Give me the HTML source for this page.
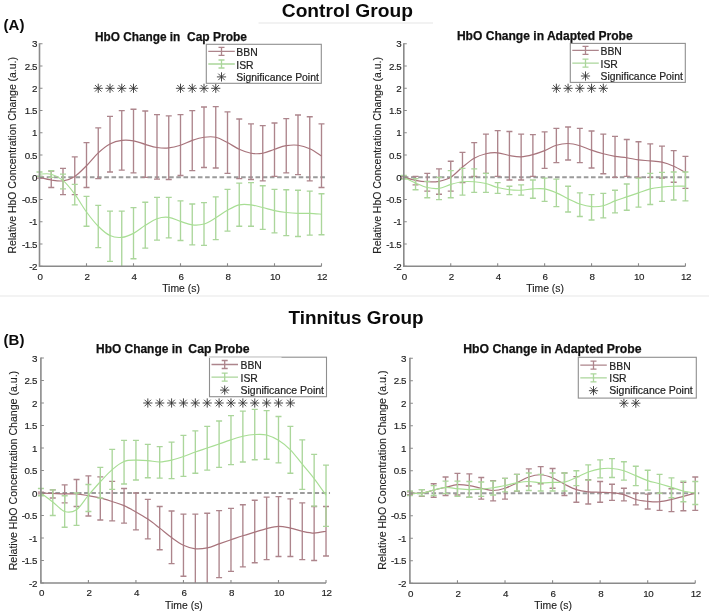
<!DOCTYPE html>
<html><head><meta charset="utf-8"><style>
html,body{margin:0;padding:0;background:#fff;}
body{width:709px;height:615px;overflow:hidden;}
svg{display:block;filter:blur(0.3px);font-family:"Liberation Sans", sans-serif;}
</style></head><body>
<svg width="709" height="615" viewBox="0 0 709 615">
<line x1="258.5" y1="23.0" x2="433" y2="23.0" stroke="#e6e6e6" stroke-width="1.2"/>
<line x1="0" y1="296" x2="709" y2="296" stroke="#efefef" stroke-width="1.5"/>
<text x="281.8" y="17.0" font-size="19.2" font-weight="bold" fill="#0a0a0a">Control Group</text>
<text x="288.5" y="323.8" font-size="18.9" font-weight="bold" fill="#0a0a0a">Tinnitus Group</text>
<text x="3.6" y="29.9" font-size="15" font-weight="bold" fill="#0a0a0a">(A)</text>
<text x="3.6" y="345.0" font-size="15" font-weight="bold" fill="#0a0a0a">(B)</text>
<line x1="39.50" y1="177.30" x2="325.50" y2="177.30" stroke="#9b9b9b" stroke-width="2.0" stroke-dasharray="4.6,2.6"/>
<path d="M39.50,176.41V178.19M36.50,176.41H42.50M36.50,178.19H42.50M51.25,171.07V187.54M48.25,171.07H54.25M48.25,187.54H54.25M63.00,168.40V194.66M60.00,168.40H66.00M60.00,194.66H66.00M74.75,156.83V194.66M71.75,156.83H77.75M71.75,194.66H77.75M86.50,142.59V187.54M83.50,142.59H89.50M83.50,187.54H89.50M98.25,127.91V178.64M95.25,127.91H101.25M95.25,178.64H101.25M110.00,116.34V171.96M107.00,116.34H113.00M107.00,171.96H113.00M121.75,110.55V170.18M118.75,110.55H124.75M118.75,170.18H124.75M133.50,109.22V172.85M130.50,109.22H136.50M130.50,172.85H136.50M145.25,111.00V177.30M142.25,111.00H148.25M142.25,177.30H148.25M157.00,114.56V179.08M154.00,114.56H160.00M154.00,179.08H160.00M168.75,115.89V179.53M165.75,115.89H171.75M165.75,179.53H171.75M180.50,114.56V175.52M177.50,114.56H183.50M177.50,175.52H183.50M192.25,110.55V170.62M189.25,110.55H195.25M189.25,170.62H195.25M204.00,106.99V167.51M201.00,106.99H207.00M201.00,167.51H207.00M215.75,106.55V167.96M212.75,106.55H218.75M212.75,167.96H218.75M227.50,111.89V173.30M224.50,111.89H230.50M224.50,173.30H230.50M239.25,119.01V178.64M236.25,119.01H242.25M236.25,178.64H242.25M251.00,123.90V179.53M248.00,123.90H254.00M248.00,179.53H254.00M262.75,125.68V180.86M259.75,125.68H265.75M259.75,180.86H265.75M274.50,123.01V176.41M271.50,123.01H277.50M271.50,176.41H277.50M286.25,118.56V172.85M283.25,118.56H289.25M283.25,172.85H289.25M298.00,115.00V174.63M295.00,115.00H301.00M295.00,174.63H301.00M309.75,116.78V180.86M306.75,116.78H312.75M306.75,180.86H312.75M321.50,123.90V187.54M318.50,123.90H324.50M318.50,187.54H324.50" stroke="#ad858c" stroke-width="1.35" fill="none"/>
<path d="M39.50,177.30 C41.46,177.75 47.33,179.38 51.25,179.97 C55.17,180.56 59.08,181.45 63.00,180.86 C66.92,180.27 70.83,178.93 74.75,176.41 C78.67,173.89 82.58,169.66 86.50,165.73 C90.42,161.80 94.33,156.46 98.25,152.83 C102.17,149.19 106.08,146.00 110.00,143.93 C113.92,141.85 117.83,140.88 121.75,140.37 C125.67,139.85 129.58,140.14 133.50,140.81 C137.42,141.48 141.33,143.26 145.25,144.37 C149.17,145.48 153.08,146.89 157.00,147.49 C160.92,148.08 164.83,148.30 168.75,147.93 C172.67,147.56 176.58,146.52 180.50,145.26 C184.42,144.00 188.33,141.70 192.25,140.37 C196.17,139.03 200.08,137.77 204.00,137.25 C207.92,136.73 211.83,136.36 215.75,137.25 C219.67,138.14 223.58,140.59 227.50,142.59 C231.42,144.59 235.33,147.49 239.25,149.27 C243.17,151.05 247.08,152.60 251.00,153.27 C254.92,153.94 258.83,153.94 262.75,153.27 C266.67,152.60 270.58,150.53 274.50,149.27 C278.42,148.00 282.33,146.37 286.25,145.71 C290.17,145.04 294.08,144.74 298.00,145.26 C301.92,145.78 305.83,147.04 309.75,148.82 C313.67,150.60 319.54,154.75 321.50,155.94" stroke="#a8747c" stroke-width="1.2" fill="none"/>
<path d="M39.50,171.96V176.41M36.50,171.96H42.50M36.50,176.41H42.50M51.25,170.62V177.30M48.25,170.62H54.25M48.25,177.30H54.25M63.00,174.19V188.87M60.00,174.19H66.00M60.00,188.87H66.00M74.75,184.42V204.89M71.75,184.42H77.75M71.75,204.89H77.75M86.50,196.44V226.25M83.50,196.44H89.50M83.50,226.25H89.50M98.25,205.34V247.61M95.25,205.34H101.25M95.25,247.61H101.25M110.00,211.12V261.40M107.00,211.12H113.00M107.00,261.40H113.00M121.75,211.12V266.30M118.75,211.12H124.75M133.50,207.56V258.74M130.50,207.56H136.50M130.50,258.74H136.50M145.25,202.22V248.06M142.25,202.22H148.25M142.25,248.06H148.25M157.00,197.33V240.05M154.00,197.33H160.00M154.00,240.05H160.00M168.75,197.33V237.82M165.75,197.33H171.75M165.75,237.82H171.75M180.50,200.89V240.49M177.50,200.89H183.50M177.50,240.49H183.50M192.25,204.00V244.94M189.25,204.00H195.25M189.25,244.94H195.25M204.00,202.67V245.39M201.00,202.67H207.00M201.00,245.39H207.00M215.75,196.88V239.60M212.75,196.88H218.75M212.75,239.60H218.75M227.50,189.31V231.15M224.50,189.31H230.50M224.50,231.15H230.50M239.25,183.09V226.25M236.25,183.09H242.25M236.25,226.25H242.25M251.00,182.64V226.25M248.00,182.64H254.00M248.00,226.25H254.00M262.75,185.76V229.37M259.75,185.76H265.75M259.75,229.37H265.75M274.50,189.31V232.93M271.50,189.31H277.50M271.50,232.93H277.50M286.25,189.76V235.60M283.25,189.76H289.25M283.25,235.60H289.25M298.00,190.21V236.49M295.00,190.21H301.00M295.00,236.49H301.00M309.75,191.09V235.15M306.75,191.09H312.75M306.75,235.15H312.75M321.50,193.77V234.71M318.50,193.77H324.50M318.50,234.71H324.50" stroke="#abd69b" stroke-width="1.35" fill="none"/>
<path d="M39.50,174.19 C41.46,174.19 47.33,173.15 51.25,174.19 C55.17,175.22 59.08,177.08 63.00,180.42 C66.92,183.75 70.83,188.94 74.75,194.21 C78.67,199.48 82.58,206.67 86.50,212.01 C90.42,217.35 94.33,222.32 98.25,226.25 C102.17,230.18 106.08,233.74 110.00,235.60 C113.92,237.45 117.83,237.75 121.75,237.38 C125.67,237.00 129.58,235.37 133.50,233.37 C137.42,231.37 141.33,227.81 145.25,225.36 C149.17,222.91 153.08,220.02 157.00,218.69 C160.92,217.35 164.83,216.91 168.75,217.35 C172.67,217.80 176.58,220.09 180.50,221.36 C184.42,222.62 188.33,224.47 192.25,224.92 C196.17,225.36 200.08,225.21 204.00,224.03 C207.92,222.84 211.83,220.09 215.75,217.80 C219.67,215.50 223.58,212.38 227.50,210.23 C231.42,208.08 235.33,205.78 239.25,204.89 C243.17,204.00 247.08,204.45 251.00,204.89 C254.92,205.34 258.83,206.60 262.75,207.56 C266.67,208.52 270.58,209.86 274.50,210.68 C278.42,211.49 282.33,212.01 286.25,212.46 C290.17,212.90 294.08,213.20 298.00,213.35 C301.92,213.49 305.83,213.20 309.75,213.35 C313.67,213.49 319.54,214.09 321.50,214.24" stroke="#a8de94" stroke-width="1.15" fill="none"/>
<path d="M93.65,88.30L102.85,88.30M95.00,85.05L101.50,91.55M98.25,83.70L98.25,92.90M101.50,85.05L95.00,91.55" stroke="#333" stroke-width="0.9" fill="none"/>
<path d="M105.40,88.30L114.60,88.30M106.75,85.05L113.25,91.55M110.00,83.70L110.00,92.90M113.25,85.05L106.75,91.55" stroke="#333" stroke-width="0.9" fill="none"/>
<path d="M117.15,88.30L126.35,88.30M118.50,85.05L125.00,91.55M121.75,83.70L121.75,92.90M125.00,85.05L118.50,91.55" stroke="#333" stroke-width="0.9" fill="none"/>
<path d="M128.90,88.30L138.10,88.30M130.25,85.05L136.75,91.55M133.50,83.70L133.50,92.90M136.75,85.05L130.25,91.55" stroke="#333" stroke-width="0.9" fill="none"/>
<path d="M175.90,88.30L185.10,88.30M177.25,85.05L183.75,91.55M180.50,83.70L180.50,92.90M183.75,85.05L177.25,91.55" stroke="#333" stroke-width="0.9" fill="none"/>
<path d="M187.65,88.30L196.85,88.30M189.00,85.05L195.50,91.55M192.25,83.70L192.25,92.90M195.50,85.05L189.00,91.55" stroke="#333" stroke-width="0.9" fill="none"/>
<path d="M199.40,88.30L208.60,88.30M200.75,85.05L207.25,91.55M204.00,83.70L204.00,92.90M207.25,85.05L200.75,91.55" stroke="#333" stroke-width="0.9" fill="none"/>
<path d="M211.15,88.30L220.35,88.30M212.50,85.05L219.00,91.55M215.75,83.70L215.75,92.90M219.00,85.05L212.50,91.55" stroke="#333" stroke-width="0.9" fill="none"/>
<path d="M39.50,43.30V266.30H321.50" stroke="#8a8a8a" stroke-width="1.6" fill="none"/>
<path d="M39.50,266.30h3M39.50,244.05h3M39.50,221.80h3M39.50,199.55h3M39.50,177.30h3M39.50,155.05h3M39.50,132.80h3M39.50,110.55h3M39.50,88.30h3M39.50,66.05h3M39.50,43.80h3M39.50,266.30v-3M86.50,266.30v-3M133.50,266.30v-3M180.50,266.30v-3M227.50,266.30v-3M274.50,266.30v-3M321.50,266.30v-3" stroke="#8a8a8a" stroke-width="1.1" fill="none"/>
<text x="37.00" y="269.80" text-anchor="end" font-size="9.8" letter-spacing="-0.45" fill="#222222" stroke="#222222" stroke-width="0.15">-2</text>
<text x="37.00" y="247.55" text-anchor="end" font-size="9.8" letter-spacing="-0.45" fill="#222222" stroke="#222222" stroke-width="0.15">-1.5</text>
<text x="37.00" y="225.30" text-anchor="end" font-size="9.8" letter-spacing="-0.45" fill="#222222" stroke="#222222" stroke-width="0.15">-1</text>
<text x="37.00" y="203.05" text-anchor="end" font-size="9.8" letter-spacing="-0.45" fill="#222222" stroke="#222222" stroke-width="0.15">-0.5</text>
<text x="37.00" y="180.80" text-anchor="end" font-size="9.8" letter-spacing="-0.45" fill="#222222" stroke="#222222" stroke-width="0.15">0</text>
<text x="37.00" y="158.55" text-anchor="end" font-size="9.8" letter-spacing="-0.45" fill="#222222" stroke="#222222" stroke-width="0.15">0.5</text>
<text x="37.00" y="136.30" text-anchor="end" font-size="9.8" letter-spacing="-0.45" fill="#222222" stroke="#222222" stroke-width="0.15">1</text>
<text x="37.00" y="114.05" text-anchor="end" font-size="9.8" letter-spacing="-0.45" fill="#222222" stroke="#222222" stroke-width="0.15">1.5</text>
<text x="37.00" y="91.80" text-anchor="end" font-size="9.8" letter-spacing="-0.45" fill="#222222" stroke="#222222" stroke-width="0.15">2</text>
<text x="37.00" y="69.55" text-anchor="end" font-size="9.8" letter-spacing="-0.45" fill="#222222" stroke="#222222" stroke-width="0.15">2.5</text>
<text x="37.00" y="47.30" text-anchor="end" font-size="9.8" letter-spacing="-0.45" fill="#222222" stroke="#222222" stroke-width="0.15">3</text>
<text x="40.00" y="279.60" text-anchor="middle" font-size="9.8" letter-spacing="-0.45" fill="#222222" stroke="#222222" stroke-width="0.15">0</text>
<text x="87.00" y="279.60" text-anchor="middle" font-size="9.8" letter-spacing="-0.45" fill="#222222" stroke="#222222" stroke-width="0.15">2</text>
<text x="134.00" y="279.60" text-anchor="middle" font-size="9.8" letter-spacing="-0.45" fill="#222222" stroke="#222222" stroke-width="0.15">4</text>
<text x="181.00" y="279.60" text-anchor="middle" font-size="9.8" letter-spacing="-0.45" fill="#222222" stroke="#222222" stroke-width="0.15">6</text>
<text x="228.00" y="279.60" text-anchor="middle" font-size="9.8" letter-spacing="-0.45" fill="#222222" stroke="#222222" stroke-width="0.15">8</text>
<text x="275.00" y="279.60" text-anchor="middle" font-size="9.8" letter-spacing="-0.45" fill="#222222" stroke="#222222" stroke-width="0.15">10</text>
<text x="322.00" y="279.60" text-anchor="middle" font-size="9.8" letter-spacing="-0.45" fill="#222222" stroke="#222222" stroke-width="0.15">12</text>
<text x="181.00" y="291.90" text-anchor="middle" font-size="10.4" fill="#222222" stroke="#222222" stroke-width="0.12">Time (s)</text>
<text transform="translate(16.00,155.30) rotate(-90)" text-anchor="middle" font-size="10.35" textLength="196.5" lengthAdjust="spacingAndGlyphs" fill="#222222" stroke="#222222" stroke-width="0.12">Relative HbO Concentration Change (a.u.)</text>
<text x="95.00" y="40.60" font-size="12" textLength="85.30" lengthAdjust="spacingAndGlyphs" font-weight="bold" fill="#111" stroke="#111" stroke-width="0.25">HbO Change in</text>
<text x="187.00" y="40.60" font-size="12" textLength="60.00" lengthAdjust="spacingAndGlyphs" font-weight="bold" fill="#111" stroke="#111" stroke-width="0.25">Cap Probe</text>
<rect x="206.30" y="44.30" width="115.00" height="39.00" fill="#fff" stroke="#8f8f8f" stroke-width="1.1"/>
<path d="M208.30,51.30H234.80M221.50,47.30V55.30M218.50,47.30h6M218.50,55.30h6" stroke="#ad858c" stroke-width="1.3" fill="none"/>
<path d="M208.30,64.00H234.80M221.50,60.00V68.00M218.50,60.00h6M218.50,68.00h6" stroke="#abd69b" stroke-width="1.3" fill="none"/>
<path d="M216.90,76.90L226.10,76.90M218.25,73.65L224.75,80.15M221.50,72.30L221.50,81.50M224.75,73.65L218.25,80.15" stroke="#333" stroke-width="0.9" fill="none"/>
<text x="236.30" y="55.80" font-size="10.4" fill="#222222" stroke="#222222" stroke-width="0.2">BBN</text>
<text x="236.30" y="68.50" font-size="10.4" fill="#222222" stroke="#222222" stroke-width="0.2">ISR</text>
<text x="236.30" y="80.50" font-size="10.4" textLength="82.50" lengthAdjust="spacingAndGlyphs" fill="#222222" stroke="#222222" stroke-width="0.2">Significance Point</text>
<line x1="403.80" y1="177.30" x2="689.44" y2="177.30" stroke="#9b9b9b" stroke-width="2.0" stroke-dasharray="4.6,2.6"/>
<path d="M403.80,176.41V178.19M400.80,176.41H406.80M400.80,178.19H406.80M415.54,176.41V184.87M412.54,176.41H418.54M412.54,184.87H418.54M427.27,173.30V191.09M424.27,173.30H430.27M424.27,191.09H430.27M439.00,168.84V194.21M436.00,168.84H442.00M436.00,194.21H442.00M450.74,161.28V191.09M447.74,161.28H453.74M447.74,191.09H453.74M462.48,152.38V182.64M459.48,152.38H465.48M459.48,182.64H465.48M474.21,142.59V176.41M471.21,142.59H477.21M471.21,176.41H477.21M485.94,134.14V173.30M482.94,134.14H488.94M482.94,173.30H488.94M497.68,130.58V176.41M494.68,130.58H500.68M494.68,176.41H500.68M509.42,131.47V179.97M506.42,131.47H512.41M506.42,179.97H512.41M521.15,134.14V179.97M518.15,134.14H524.15M518.15,179.97H524.15M532.88,134.58V176.41M529.88,134.58H535.88M529.88,176.41H535.88M544.62,131.91V168.40M541.62,131.91H547.62M541.62,168.40H547.62M556.36,128.35V162.62M553.36,128.35H559.36M553.36,162.62H559.36M568.09,127.02V159.95M565.09,127.02H571.09M565.09,159.95H571.09M579.83,128.35V162.62M576.83,128.35H582.83M576.83,162.62H582.83M591.56,131.02V167.96M588.56,131.02H594.56M588.56,167.96H594.56M603.30,134.14V173.74M600.30,134.14H606.30M600.30,173.74H606.30M615.03,136.36V177.30M612.03,136.36H618.03M612.03,177.30H618.03M626.76,139.48V176.41M623.76,139.48H629.76M623.76,176.41H629.76M638.50,141.70V177.30M635.50,141.70H641.50M635.50,177.30H641.50M650.24,143.93V177.30M647.24,143.93H653.24M647.24,177.30H653.24M661.97,146.15V178.19M658.97,146.15H664.97M658.97,178.19H664.97M673.70,150.60V182.20M670.70,150.60H676.70M670.70,182.20H676.70M685.44,156.39V188.43M682.44,156.39H688.44M682.44,188.43H688.44" stroke="#ad858c" stroke-width="1.35" fill="none"/>
<path d="M403.80,177.30 C405.76,177.82 411.62,179.67 415.54,180.42 C419.45,181.16 423.36,181.60 427.27,181.75 C431.18,181.90 435.09,182.05 439.00,181.31 C442.92,180.56 446.83,179.67 450.74,177.30 C454.65,174.93 458.56,170.25 462.48,167.06 C466.39,163.88 470.30,160.39 474.21,158.17 C478.12,155.94 482.03,154.61 485.94,153.72 C489.86,152.82 493.77,152.53 497.68,152.83 C501.59,153.12 505.50,154.83 509.42,155.50 C513.33,156.16 517.24,156.98 521.15,156.83 C525.06,156.68 528.97,155.64 532.88,154.61 C536.80,153.57 540.71,152.16 544.62,150.60 C548.53,149.04 552.44,146.45 556.36,145.26 C560.27,144.07 564.18,143.41 568.09,143.48 C572.00,143.55 575.91,144.59 579.83,145.71 C583.74,146.82 587.65,148.82 591.56,150.16 C595.47,151.49 599.38,152.68 603.30,153.72 C607.21,154.75 611.12,155.72 615.03,156.39 C618.94,157.05 622.85,157.13 626.76,157.72 C630.68,158.31 634.59,159.43 638.50,159.95 C642.41,160.46 646.32,160.46 650.24,160.84 C654.15,161.21 658.06,161.28 661.97,162.17 C665.88,163.06 669.79,164.47 673.70,166.18 C677.62,167.88 683.48,171.37 685.44,172.41" stroke="#a8747c" stroke-width="1.2" fill="none"/>
<path d="M403.80,175.52V179.08M400.80,175.52H406.80M400.80,179.08H406.80M415.54,178.64V189.76M412.54,178.64H418.54M412.54,189.76H418.54M427.27,181.31V197.77M424.27,181.31H430.27M424.27,197.77H430.27M439.00,177.30V199.55M436.00,177.30H442.00M436.00,199.55H442.00M450.74,170.62V197.77M447.74,170.62H453.74M447.74,197.77H453.74M462.48,168.40V195.10M459.48,168.40H465.48M459.48,195.10H465.48M474.21,168.84V192.43M471.21,168.84H477.21M471.21,192.43H477.21M485.94,173.30V192.43M482.94,173.30H488.94M482.94,192.43H488.94M497.68,182.64V193.32M494.68,182.64H500.68M494.68,193.32H500.68M509.42,186.20V194.66M506.42,186.20H512.41M506.42,194.66H512.41M521.15,184.87V195.10M518.15,184.87H524.15M518.15,195.10H524.15M532.88,179.97V198.22M529.88,179.97H535.88M529.88,198.22H535.88M544.62,178.19V201.33M541.62,178.19H547.62M541.62,201.33H547.62M556.36,179.08V206.67M553.36,179.08H559.36M553.36,206.67H559.36M568.09,186.20V212.01M565.09,186.20H571.09M565.09,212.01H571.09M579.83,192.88V216.46M576.83,192.88H582.83M576.83,216.46H582.83M591.56,194.66V220.02M588.56,194.66H594.56M588.56,220.02H594.56M603.30,193.32V217.80M600.30,193.32H606.30M600.30,217.80H606.30M615.03,190.21V212.90M612.03,190.21H618.03M612.03,212.90H618.03M626.76,183.98V210.23M623.76,183.98H629.76M623.76,210.23H629.76M638.50,178.19V207.12M635.50,178.19H641.50M635.50,207.12H641.50M650.24,173.30V204.45M647.24,173.30H653.24M647.24,204.45H653.24M661.97,172.41V201.33M658.97,172.41H664.97M658.97,201.33H664.97M673.70,171.96V200.00M670.70,171.96H676.70M670.70,200.00H676.70M685.44,171.96V200.89M682.44,171.96H688.44M682.44,200.89H688.44" stroke="#abd69b" stroke-width="1.35" fill="none"/>
<path d="M403.80,177.30 C405.76,178.26 411.62,181.38 415.54,183.09 C419.45,184.79 423.36,186.65 427.27,187.54 C431.18,188.43 435.09,188.94 439.00,188.43 C442.92,187.91 446.83,185.53 450.74,184.42 C454.65,183.31 458.56,182.19 462.48,181.75 C466.39,181.31 470.30,181.45 474.21,181.75 C478.12,182.05 482.03,182.57 485.94,183.53 C489.86,184.49 493.77,186.50 497.68,187.54 C501.59,188.57 505.50,189.32 509.42,189.76 C513.33,190.21 517.24,190.35 521.15,190.21 C525.06,190.06 528.97,189.09 532.88,188.87 C536.80,188.65 540.71,188.20 544.62,188.87 C548.53,189.54 552.44,191.24 556.36,192.88 C560.27,194.51 564.18,196.81 568.09,198.66 C572.00,200.51 575.91,202.66 579.83,204.00 C583.74,205.34 587.65,206.37 591.56,206.67 C595.47,206.97 599.38,206.74 603.30,205.78 C607.21,204.82 611.12,202.37 615.03,200.89 C618.94,199.40 622.85,198.22 626.76,196.88 C630.68,195.55 634.59,194.21 638.50,192.88 C642.41,191.54 646.32,189.83 650.24,188.87 C654.15,187.91 658.06,187.53 661.97,187.09 C665.88,186.65 669.79,186.35 673.70,186.20 C677.62,186.05 683.48,186.20 685.44,186.20" stroke="#a8de94" stroke-width="1.15" fill="none"/>
<path d="M551.75,88.30L560.96,88.30M553.10,85.05L559.61,91.55M556.36,83.70L556.36,92.90M559.61,85.05L553.10,91.55" stroke="#333" stroke-width="0.9" fill="none"/>
<path d="M563.49,88.30L572.69,88.30M564.84,85.05L571.34,91.55M568.09,83.70L568.09,92.90M571.34,85.05L564.84,91.55" stroke="#333" stroke-width="0.9" fill="none"/>
<path d="M575.23,88.30L584.43,88.30M576.57,85.05L583.08,91.55M579.83,83.70L579.83,92.90M583.08,85.05L576.57,91.55" stroke="#333" stroke-width="0.9" fill="none"/>
<path d="M586.96,88.30L596.16,88.30M588.31,85.05L594.81,91.55M591.56,83.70L591.56,92.90M594.81,85.05L588.31,91.55" stroke="#333" stroke-width="0.9" fill="none"/>
<path d="M598.70,88.30L607.90,88.30M600.04,85.05L606.55,91.55M603.30,83.70L603.30,92.90M606.55,85.05L600.04,91.55" stroke="#333" stroke-width="0.9" fill="none"/>
<path d="M403.80,43.30V266.30H685.44" stroke="#8a8a8a" stroke-width="1.6" fill="none"/>
<path d="M403.80,266.30h3M403.80,244.05h3M403.80,221.80h3M403.80,199.55h3M403.80,177.30h3M403.80,155.05h3M403.80,132.80h3M403.80,110.55h3M403.80,88.30h3M403.80,66.05h3M403.80,43.80h3M403.80,266.30v-3M450.74,266.30v-3M497.68,266.30v-3M544.62,266.30v-3M591.56,266.30v-3M638.50,266.30v-3M685.44,266.30v-3" stroke="#8a8a8a" stroke-width="1.1" fill="none"/>
<text x="401.30" y="269.80" text-anchor="end" font-size="9.8" letter-spacing="-0.45" fill="#222222" stroke="#222222" stroke-width="0.15">-2</text>
<text x="401.30" y="247.55" text-anchor="end" font-size="9.8" letter-spacing="-0.45" fill="#222222" stroke="#222222" stroke-width="0.15">-1.5</text>
<text x="401.30" y="225.30" text-anchor="end" font-size="9.8" letter-spacing="-0.45" fill="#222222" stroke="#222222" stroke-width="0.15">-1</text>
<text x="401.30" y="203.05" text-anchor="end" font-size="9.8" letter-spacing="-0.45" fill="#222222" stroke="#222222" stroke-width="0.15">-0.5</text>
<text x="401.30" y="180.80" text-anchor="end" font-size="9.8" letter-spacing="-0.45" fill="#222222" stroke="#222222" stroke-width="0.15">0</text>
<text x="401.30" y="158.55" text-anchor="end" font-size="9.8" letter-spacing="-0.45" fill="#222222" stroke="#222222" stroke-width="0.15">0.5</text>
<text x="401.30" y="136.30" text-anchor="end" font-size="9.8" letter-spacing="-0.45" fill="#222222" stroke="#222222" stroke-width="0.15">1</text>
<text x="401.30" y="114.05" text-anchor="end" font-size="9.8" letter-spacing="-0.45" fill="#222222" stroke="#222222" stroke-width="0.15">1.5</text>
<text x="401.30" y="91.80" text-anchor="end" font-size="9.8" letter-spacing="-0.45" fill="#222222" stroke="#222222" stroke-width="0.15">2</text>
<text x="401.30" y="69.55" text-anchor="end" font-size="9.8" letter-spacing="-0.45" fill="#222222" stroke="#222222" stroke-width="0.15">2.5</text>
<text x="401.30" y="47.30" text-anchor="end" font-size="9.8" letter-spacing="-0.45" fill="#222222" stroke="#222222" stroke-width="0.15">3</text>
<text x="404.30" y="279.60" text-anchor="middle" font-size="9.8" letter-spacing="-0.45" fill="#222222" stroke="#222222" stroke-width="0.15">0</text>
<text x="451.24" y="279.60" text-anchor="middle" font-size="9.8" letter-spacing="-0.45" fill="#222222" stroke="#222222" stroke-width="0.15">2</text>
<text x="498.18" y="279.60" text-anchor="middle" font-size="9.8" letter-spacing="-0.45" fill="#222222" stroke="#222222" stroke-width="0.15">4</text>
<text x="545.12" y="279.60" text-anchor="middle" font-size="9.8" letter-spacing="-0.45" fill="#222222" stroke="#222222" stroke-width="0.15">6</text>
<text x="592.06" y="279.60" text-anchor="middle" font-size="9.8" letter-spacing="-0.45" fill="#222222" stroke="#222222" stroke-width="0.15">8</text>
<text x="639.00" y="279.60" text-anchor="middle" font-size="9.8" letter-spacing="-0.45" fill="#222222" stroke="#222222" stroke-width="0.15">10</text>
<text x="685.94" y="279.60" text-anchor="middle" font-size="9.8" letter-spacing="-0.45" fill="#222222" stroke="#222222" stroke-width="0.15">12</text>
<text x="545.12" y="291.90" text-anchor="middle" font-size="10.4" fill="#222222" stroke="#222222" stroke-width="0.12">Time (s)</text>
<text transform="translate(380.60,155.40) rotate(-90)" text-anchor="middle" font-size="10.35" textLength="196.8" lengthAdjust="spacingAndGlyphs" fill="#222222" stroke="#222222" stroke-width="0.12">Relative HbO Concentration Change (a.u.)</text>
<text x="456.90" y="39.70" font-size="12" textLength="175.80" lengthAdjust="spacingAndGlyphs" font-weight="bold" fill="#111" stroke="#111" stroke-width="0.25">HbO Change in Adapted Probe</text>
<rect x="570.30" y="43.40" width="115.00" height="39.00" fill="#fff" stroke="#8f8f8f" stroke-width="1.1"/>
<path d="M572.30,50.40H598.80M585.50,46.40V54.40M582.50,46.40h6M582.50,54.40h6" stroke="#ad858c" stroke-width="1.3" fill="none"/>
<path d="M572.30,63.10H598.80M585.50,59.10V67.10M582.50,59.10h6M582.50,67.10h6" stroke="#abd69b" stroke-width="1.3" fill="none"/>
<path d="M580.90,76.00L590.10,76.00M582.25,72.75L588.75,79.25M585.50,71.40L585.50,80.60M588.75,72.75L582.25,79.25" stroke="#333" stroke-width="0.9" fill="none"/>
<text x="600.50" y="54.90" font-size="10.4" fill="#222222" stroke="#222222" stroke-width="0.2">BBN</text>
<text x="600.50" y="67.60" font-size="10.4" fill="#222222" stroke="#222222" stroke-width="0.2">ISR</text>
<text x="600.50" y="79.60" font-size="10.4" textLength="82.30" lengthAdjust="spacingAndGlyphs" fill="#222222" stroke="#222222" stroke-width="0.2">Significance Point</text>
<line x1="40.90" y1="493.00" x2="330.02" y2="493.00" stroke="#9b9b9b" stroke-width="2.0" stroke-dasharray="4.6,2.6"/>
<path d="M40.90,492.10V493.90M37.90,492.10H43.90M37.90,493.90H43.90M52.78,489.85V497.95M49.78,489.85H55.78M49.78,497.95H55.78M64.66,484.90V502.90M61.66,484.90H67.66M61.66,502.90H67.66M76.54,479.50V506.50M73.54,479.50H79.54M73.54,506.50H79.54M88.42,475.90V515.95M85.42,475.90H91.42M85.42,515.95H91.42M100.30,476.80V520.00M97.30,476.80H103.30M97.30,520.00H103.30M112.18,481.30V520.90M109.18,481.30H115.18M109.18,520.90H115.18M124.06,488.50V523.15M121.06,488.50H127.06M121.06,523.15H127.06M135.94,493.00V529.90M132.94,493.00H138.94M132.94,529.90H138.94M147.82,499.30V538.90M144.82,499.30H150.82M144.82,538.90H150.82M159.70,506.50V549.70M156.70,506.50H162.70M156.70,549.70H162.70M171.58,511.00V563.65M168.58,511.00H174.58M168.58,563.65H174.58M183.46,514.15V576.25M180.46,514.15H186.46M180.46,576.25H186.46M195.34,514.15V583.00M192.34,514.15H198.34M207.22,513.25V583.00M204.22,513.25H210.22M219.10,510.55V577.60M216.10,510.55H222.10M216.10,577.60H222.10M230.98,508.30V571.30M227.98,508.30H233.98M227.98,571.30H233.98M242.86,504.70V566.80M239.86,504.70H245.86M239.86,566.80H245.86M254.74,500.20V562.75M251.74,500.20H257.74M251.74,562.75H257.74M266.62,497.05V559.60M263.62,497.05H269.62M263.62,559.60H269.62M278.50,496.60V556.45M275.50,496.60H281.50M275.50,556.45H281.50M290.38,498.85V556.45M287.38,498.85H293.38M287.38,556.45H293.38M302.26,502.90V559.60M299.26,502.90H305.26M299.26,559.60H305.26M314.14,506.50V560.50M311.14,506.50H317.14M311.14,560.50H317.14M326.02,506.50V556.00M323.02,506.50H329.02M323.02,556.00H329.02" stroke="#ad858c" stroke-width="1.35" fill="none"/>
<path d="M40.90,493.00 C42.88,493.07 48.82,493.30 52.78,493.45 C56.74,493.60 60.70,493.82 64.66,493.90 C68.62,493.97 72.58,493.60 76.54,493.90 C80.50,494.20 84.46,495.02 88.42,495.70 C92.38,496.38 96.34,496.97 100.30,497.95 C104.26,498.93 108.22,500.27 112.18,501.55 C116.14,502.83 120.10,503.88 124.06,505.60 C128.02,507.33 131.98,509.65 135.94,511.90 C139.90,514.15 143.86,516.40 147.82,519.10 C151.78,521.80 155.74,525.03 159.70,528.10 C163.66,531.17 167.62,534.70 171.58,537.55 C175.54,540.40 179.50,543.33 183.46,545.20 C187.42,547.08 191.38,548.35 195.34,548.80 C199.30,549.25 203.26,548.72 207.22,547.90 C211.18,547.08 215.14,545.20 219.10,543.85 C223.06,542.50 227.02,541.15 230.98,539.80 C234.94,538.45 238.90,537.02 242.86,535.75 C246.82,534.48 250.78,533.35 254.74,532.15 C258.70,530.95 262.66,529.52 266.62,528.55 C270.58,527.57 274.54,526.38 278.50,526.30 C282.46,526.22 286.42,527.27 290.38,528.10 C294.34,528.93 298.30,530.42 302.26,531.25 C306.22,532.08 310.18,533.05 314.14,533.05 C318.10,533.05 324.04,531.55 326.02,531.25" stroke="#a8747c" stroke-width="1.2" fill="none"/>
<path d="M40.90,488.50V495.70M37.90,488.50H43.90M37.90,495.70H43.90M52.78,489.85V515.50M49.78,489.85H55.78M49.78,515.50H55.78M64.66,495.70V527.20M61.66,495.70H67.66M61.66,527.20H67.66M76.54,493.00V525.40M73.54,493.00H79.54M73.54,525.40H79.54M88.42,484.45V511.45M85.42,484.45H91.42M85.42,511.45H91.42M100.30,467.35V497.95M97.30,467.35H103.30M97.30,497.95H103.30M112.18,449.35V489.40M109.18,449.35H115.18M109.18,489.40H115.18M124.06,440.35V484.00M121.06,440.35H127.06M121.06,484.00H127.06M135.94,440.35V479.95M132.94,440.35H138.94M132.94,479.95H138.94M147.82,444.40V477.70M144.82,444.40H150.82M144.82,477.70H150.82M159.70,446.65V478.15M156.70,446.65H162.70M156.70,478.15H162.70M171.58,442.15V478.60M168.58,442.15H174.58M168.58,478.60H174.58M183.46,435.40V476.35M180.46,435.40H186.46M180.46,476.35H186.46M195.34,430.90V473.20M192.34,430.90H198.34M192.34,473.20H198.34M207.22,426.40V470.05M204.22,426.40H210.22M204.22,470.05H210.22M219.10,421.00V467.35M216.10,421.00H222.10M216.10,467.35H222.10M230.98,415.60V464.65M227.98,415.60H233.98M227.98,464.65H233.98M242.86,411.10V461.95M239.86,411.10H245.86M239.86,461.95H245.86M254.74,409.30V459.70M251.74,409.30H257.74M251.74,459.70H257.74M266.62,410.65V459.25M263.62,410.65H269.62M263.62,459.25H269.62M278.50,416.50V462.85M275.50,416.50H281.50M275.50,462.85H281.50M290.38,426.40V473.20M287.38,426.40H293.38M287.38,473.20H293.38M302.26,439.90V489.40M299.26,439.90H305.26M299.26,489.40H305.26M314.14,454.30V506.05M311.14,454.30H317.14M311.14,506.05H317.14M326.02,465.10V526.30M323.02,465.10H329.02M323.02,526.30H329.02" stroke="#abd69b" stroke-width="1.35" fill="none"/>
<path d="M40.90,493.00 C42.88,494.50 48.82,498.93 52.78,502.00 C56.74,505.07 60.70,510.18 64.66,511.45 C68.62,512.73 72.58,512.35 76.54,509.65 C80.50,506.95 84.46,499.90 88.42,495.25 C92.38,490.60 96.34,486.02 100.30,481.75 C104.26,477.48 108.22,472.98 112.18,469.60 C116.14,466.23 120.10,463.07 124.06,461.50 C128.02,459.93 131.98,460.30 135.94,460.15 C139.90,460.00 143.86,460.30 147.82,460.60 C151.78,460.90 155.74,462.02 159.70,461.95 C163.66,461.88 167.62,461.05 171.58,460.15 C175.54,459.25 179.50,457.90 183.46,456.55 C187.42,455.20 191.38,453.48 195.34,452.05 C199.30,450.62 203.26,449.35 207.22,448.00 C211.18,446.65 215.14,445.30 219.10,443.95 C223.06,442.60 227.02,441.17 230.98,439.90 C234.94,438.62 238.90,437.20 242.86,436.30 C246.82,435.40 250.78,434.73 254.74,434.50 C258.70,434.27 262.66,433.97 266.62,434.95 C270.58,435.93 274.54,437.88 278.50,440.35 C282.46,442.83 286.42,445.83 290.38,449.80 C294.34,453.77 298.30,459.40 302.26,464.20 C306.22,469.00 310.18,473.43 314.14,478.60 C318.10,483.78 324.04,492.48 326.02,495.25" stroke="#a8de94" stroke-width="1.15" fill="none"/>
<path d="M143.22,403.00L152.42,403.00M144.57,399.75L151.07,406.25M147.82,398.40L147.82,407.60M151.07,399.75L144.57,406.25" stroke="#333" stroke-width="0.9" fill="none"/>
<path d="M155.10,403.00L164.30,403.00M156.45,399.75L162.95,406.25M159.70,398.40L159.70,407.60M162.95,399.75L156.45,406.25" stroke="#333" stroke-width="0.9" fill="none"/>
<path d="M166.98,403.00L176.18,403.00M168.33,399.75L174.83,406.25M171.58,398.40L171.58,407.60M174.83,399.75L168.33,406.25" stroke="#333" stroke-width="0.9" fill="none"/>
<path d="M178.86,403.00L188.06,403.00M180.21,399.75L186.71,406.25M183.46,398.40L183.46,407.60M186.71,399.75L180.21,406.25" stroke="#333" stroke-width="0.9" fill="none"/>
<path d="M190.74,403.00L199.94,403.00M192.09,399.75L198.59,406.25M195.34,398.40L195.34,407.60M198.59,399.75L192.09,406.25" stroke="#333" stroke-width="0.9" fill="none"/>
<path d="M202.62,403.00L211.82,403.00M203.97,399.75L210.47,406.25M207.22,398.40L207.22,407.60M210.47,399.75L203.97,406.25" stroke="#333" stroke-width="0.9" fill="none"/>
<path d="M214.50,403.00L223.70,403.00M215.85,399.75L222.35,406.25M219.10,398.40L219.10,407.60M222.35,399.75L215.85,406.25" stroke="#333" stroke-width="0.9" fill="none"/>
<path d="M226.38,403.00L235.58,403.00M227.73,399.75L234.23,406.25M230.98,398.40L230.98,407.60M234.23,399.75L227.73,406.25" stroke="#333" stroke-width="0.9" fill="none"/>
<path d="M238.26,403.00L247.46,403.00M239.61,399.75L246.11,406.25M242.86,398.40L242.86,407.60M246.11,399.75L239.61,406.25" stroke="#333" stroke-width="0.9" fill="none"/>
<path d="M250.14,403.00L259.34,403.00M251.49,399.75L257.99,406.25M254.74,398.40L254.74,407.60M257.99,399.75L251.49,406.25" stroke="#333" stroke-width="0.9" fill="none"/>
<path d="M262.02,403.00L271.22,403.00M263.37,399.75L269.87,406.25M266.62,398.40L266.62,407.60M269.87,399.75L263.37,406.25" stroke="#333" stroke-width="0.9" fill="none"/>
<path d="M273.90,403.00L283.10,403.00M275.25,399.75L281.75,406.25M278.50,398.40L278.50,407.60M281.75,399.75L275.25,406.25" stroke="#333" stroke-width="0.9" fill="none"/>
<path d="M285.78,403.00L294.98,403.00M287.13,399.75L293.63,406.25M290.38,398.40L290.38,407.60M293.63,399.75L287.13,406.25" stroke="#333" stroke-width="0.9" fill="none"/>
<path d="M40.90,357.50V583.00H326.02" stroke="#8a8a8a" stroke-width="1.6" fill="none"/>
<path d="M40.90,583.00h3M40.90,560.50h3M40.90,538.00h3M40.90,515.50h3M40.90,493.00h3M40.90,470.50h3M40.90,448.00h3M40.90,425.50h3M40.90,403.00h3M40.90,380.50h3M40.90,358.00h3M40.90,583.00v-3M88.42,583.00v-3M135.94,583.00v-3M183.46,583.00v-3M230.98,583.00v-3M278.50,583.00v-3M326.02,583.00v-3" stroke="#8a8a8a" stroke-width="1.1" fill="none"/>
<text x="36.90" y="586.50" text-anchor="end" font-size="9.8" letter-spacing="-0.45" fill="#222222" stroke="#222222" stroke-width="0.15">-2</text>
<text x="36.90" y="564.00" text-anchor="end" font-size="9.8" letter-spacing="-0.45" fill="#222222" stroke="#222222" stroke-width="0.15">-1.5</text>
<text x="36.90" y="541.50" text-anchor="end" font-size="9.8" letter-spacing="-0.45" fill="#222222" stroke="#222222" stroke-width="0.15">-1</text>
<text x="36.90" y="519.00" text-anchor="end" font-size="9.8" letter-spacing="-0.45" fill="#222222" stroke="#222222" stroke-width="0.15">-0.5</text>
<text x="36.90" y="496.50" text-anchor="end" font-size="9.8" letter-spacing="-0.45" fill="#222222" stroke="#222222" stroke-width="0.15">0</text>
<text x="36.90" y="474.00" text-anchor="end" font-size="9.8" letter-spacing="-0.45" fill="#222222" stroke="#222222" stroke-width="0.15">0.5</text>
<text x="36.90" y="451.50" text-anchor="end" font-size="9.8" letter-spacing="-0.45" fill="#222222" stroke="#222222" stroke-width="0.15">1</text>
<text x="36.90" y="429.00" text-anchor="end" font-size="9.8" letter-spacing="-0.45" fill="#222222" stroke="#222222" stroke-width="0.15">1.5</text>
<text x="36.90" y="406.50" text-anchor="end" font-size="9.8" letter-spacing="-0.45" fill="#222222" stroke="#222222" stroke-width="0.15">2</text>
<text x="36.90" y="384.00" text-anchor="end" font-size="9.8" letter-spacing="-0.45" fill="#222222" stroke="#222222" stroke-width="0.15">2.5</text>
<text x="36.90" y="361.50" text-anchor="end" font-size="9.8" letter-spacing="-0.45" fill="#222222" stroke="#222222" stroke-width="0.15">3</text>
<text x="41.40" y="596.30" text-anchor="middle" font-size="9.8" letter-spacing="-0.45" fill="#222222" stroke="#222222" stroke-width="0.15">0</text>
<text x="88.92" y="596.30" text-anchor="middle" font-size="9.8" letter-spacing="-0.45" fill="#222222" stroke="#222222" stroke-width="0.15">2</text>
<text x="136.44" y="596.30" text-anchor="middle" font-size="9.8" letter-spacing="-0.45" fill="#222222" stroke="#222222" stroke-width="0.15">4</text>
<text x="183.96" y="596.30" text-anchor="middle" font-size="9.8" letter-spacing="-0.45" fill="#222222" stroke="#222222" stroke-width="0.15">6</text>
<text x="231.48" y="596.30" text-anchor="middle" font-size="9.8" letter-spacing="-0.45" fill="#222222" stroke="#222222" stroke-width="0.15">8</text>
<text x="279.00" y="596.30" text-anchor="middle" font-size="9.8" letter-spacing="-0.45" fill="#222222" stroke="#222222" stroke-width="0.15">10</text>
<text x="326.52" y="596.30" text-anchor="middle" font-size="9.8" letter-spacing="-0.45" fill="#222222" stroke="#222222" stroke-width="0.15">12</text>
<text x="183.96" y="608.60" text-anchor="middle" font-size="10.4" fill="#222222" stroke="#222222" stroke-width="0.12">Time (s)</text>
<text transform="translate(16.90,470.60) rotate(-90)" text-anchor="middle" font-size="10.35" textLength="199.5" lengthAdjust="spacingAndGlyphs" fill="#222222" stroke="#222222" stroke-width="0.12">Relative HbO Concentration Change (a.u.)</text>
<text x="96.00" y="353.20" font-size="12" textLength="86.30" lengthAdjust="spacingAndGlyphs" font-weight="bold" fill="#111" stroke="#111" stroke-width="0.25">HbO Change in</text>
<text x="188.30" y="353.20" font-size="12" textLength="61.20" lengthAdjust="spacingAndGlyphs" font-weight="bold" fill="#111" stroke="#111" stroke-width="0.25">Cap Probe</text>
<rect x="209.50" y="357.20" width="117.00" height="39.50" fill="#fff" stroke="#8f8f8f" stroke-width="1.1"/>
<path d="M211.50,364.50H238.00M224.70,360.50V368.50M221.70,360.50h6M221.70,368.50h6" stroke="#ad858c" stroke-width="1.3" fill="none"/>
<path d="M211.50,377.20H238.00M224.70,373.20V381.20M221.70,373.20h6M221.70,381.20h6" stroke="#abd69b" stroke-width="1.3" fill="none"/>
<path d="M220.10,390.10L229.30,390.10M221.45,386.85L227.95,393.35M224.70,385.50L224.70,394.70M227.95,386.85L221.45,393.35" stroke="#333" stroke-width="0.9" fill="none"/>
<text x="240.50" y="369.00" font-size="10.4" fill="#222222" stroke="#222222" stroke-width="0.2">BBN</text>
<text x="240.50" y="381.70" font-size="10.4" fill="#222222" stroke="#222222" stroke-width="0.2">ISR</text>
<text x="240.50" y="393.70" font-size="10.4" textLength="83.50" lengthAdjust="spacingAndGlyphs" fill="#222222" stroke="#222222" stroke-width="0.2">Significance Point</text>
<line x1="208.90" y1="357.20" x2="281.50" y2="357.20" stroke="#dedede" stroke-width="1.4"/>
<line x1="409.90" y1="493.20" x2="699.26" y2="493.20" stroke="#9b9b9b" stroke-width="2.0" stroke-dasharray="4.6,2.6"/>
<path d="M409.90,491.85V494.55M406.90,491.85H412.90M406.90,494.55H412.90M421.79,489.60V496.35M418.79,489.60H424.79M418.79,496.35H424.79M433.68,483.75V497.25M430.68,483.75H436.68M430.68,497.25H436.68M445.57,477.00V495.45M442.57,477.00H448.57M442.57,495.45H448.57M457.46,473.40V495.00M454.46,473.40H460.46M454.46,495.00H460.46M469.35,473.85V497.25M466.35,473.85H472.35M466.35,497.25H472.35M481.24,477.45V499.05M478.24,477.45H484.24M478.24,499.05H484.24M493.13,480.60V500.85M490.13,480.60H496.13M490.13,500.85H496.13M505.02,478.35V499.05M502.02,478.35H508.02M502.02,499.05H508.02M516.91,474.30V491.40M513.91,474.30H519.91M513.91,491.40H519.91M528.80,468.90V486.00M525.80,468.90H531.80M525.80,486.00H531.80M540.69,466.65V483.75M537.69,466.65H543.69M537.69,483.75H543.69M552.58,468.45V488.25M549.58,468.45H555.58M549.58,488.25H555.58M564.47,472.95V495.45M561.47,472.95H567.47M561.47,495.45H567.47M576.36,476.55V502.20M573.36,476.55H579.36M573.36,502.20H579.36M588.25,479.70V504.00M585.25,479.70H591.25M585.25,504.00H591.25M600.14,481.50V502.20M597.14,481.50H603.14M597.14,502.20H603.14M612.03,484.20V500.40M609.03,484.20H615.03M609.03,500.40H615.03M623.92,488.25V500.85M620.92,488.25H626.92M620.92,500.85H626.92M635.81,493.20V504.90M632.81,493.20H638.81M632.81,504.90H638.81M647.70,494.10V508.95M644.70,494.10H650.70M644.70,508.95H650.70M659.59,493.20V510.30M656.59,493.20H662.59M656.59,510.30H662.59M671.48,488.70V511.65M668.48,488.70H674.48M668.48,511.65H674.48M683.37,482.40V510.75M680.37,482.40H686.37M680.37,510.75H686.37M695.26,477.00V510.30M692.26,477.00H698.26M692.26,510.30H698.26" stroke="#ad858c" stroke-width="1.35" fill="none"/>
<path d="M409.90,493.20 C411.88,493.20 417.83,493.72 421.79,493.20 C425.75,492.68 429.72,491.03 433.68,490.05 C437.64,489.07 441.61,488.25 445.57,487.35 C449.53,486.45 453.50,484.95 457.46,484.65 C461.42,484.35 465.39,484.95 469.35,485.55 C473.31,486.15 477.28,487.43 481.24,488.25 C485.20,489.07 489.17,490.50 493.13,490.50 C497.09,490.50 501.06,489.52 505.02,488.25 C508.98,486.98 512.95,484.72 516.91,482.85 C520.87,480.97 524.84,478.35 528.80,477.00 C532.76,475.65 536.73,474.60 540.69,474.75 C544.65,474.90 548.62,476.32 552.58,477.90 C556.54,479.47 560.51,482.25 564.47,484.20 C568.43,486.15 572.40,488.32 576.36,489.60 C580.32,490.87 584.29,491.40 588.25,491.85 C592.21,492.30 596.18,492.15 600.14,492.30 C604.10,492.45 608.07,492.38 612.03,492.75 C615.99,493.12 619.96,493.43 623.92,494.55 C627.88,495.68 631.85,498.38 635.81,499.50 C639.77,500.62 643.74,500.93 647.70,501.30 C651.66,501.68 655.63,502.05 659.59,501.75 C663.55,501.45 667.52,500.40 671.48,499.50 C675.44,498.60 679.41,497.40 683.37,496.35 C687.33,495.30 693.28,493.72 695.26,493.20" stroke="#a8747c" stroke-width="1.2" fill="none"/>
<path d="M409.90,490.95V495.45M406.90,490.95H412.90M406.90,495.45H412.90M421.79,489.60V495.90M418.79,489.60H424.79M418.79,495.90H424.79M433.68,485.55V495.45M430.68,485.55H436.68M430.68,495.45H436.68M445.57,481.05V493.65M442.57,481.05H448.57M442.57,493.65H448.57M457.46,481.05V496.35M454.46,481.05H460.46M454.46,496.35H460.46M469.35,481.50V497.25M466.35,481.50H472.35M466.35,497.25H472.35M481.24,481.95V496.35M478.24,481.95H484.24M478.24,496.35H484.24M493.13,481.05V495.00M490.13,481.05H496.13M490.13,495.00H496.13M505.02,478.35V491.85M502.02,478.35H508.02M502.02,491.85H508.02M516.91,474.30V490.95M513.91,474.30H519.91M513.91,490.95H519.91M528.80,472.95V490.50M525.80,472.95H531.80M525.80,490.50H531.80M540.69,474.30V490.95M537.69,474.30H543.69M537.69,490.95H543.69M552.58,472.95V490.95M549.58,472.95H555.58M549.58,490.95H555.58M564.47,472.95V490.95M561.47,472.95H567.47M561.47,490.95H567.47M576.36,470.70V485.55M573.36,470.70H579.36M573.36,485.55H579.36M588.25,464.85V480.15M585.25,464.85H591.25M585.25,480.15H591.25M600.14,459.90V477.90M597.14,459.90H603.14M597.14,477.90H603.14M612.03,458.55V477.45M609.03,458.55H615.03M609.03,477.45H615.03M623.92,461.70V480.15M620.92,461.70H626.92M620.92,480.15H626.92M635.81,466.20V485.55M632.81,466.20H638.81M632.81,485.55H638.81M647.70,470.25V490.05M644.70,470.25H650.70M644.70,490.05H650.70M659.59,474.30V493.20M656.59,474.30H662.59M656.59,493.20H662.59M671.48,477.90V497.70M668.48,477.90H674.48M668.48,497.70H674.48M683.37,481.05V501.75M680.37,481.05H686.37M680.37,501.75H686.37M695.26,481.50V504.45M692.26,481.50H698.26M692.26,504.45H698.26" stroke="#abd69b" stroke-width="1.35" fill="none"/>
<path d="M409.90,493.20 C411.88,493.20 417.83,493.72 421.79,493.20 C425.75,492.68 429.72,491.03 433.68,490.05 C437.64,489.07 441.61,487.57 445.57,487.35 C449.53,487.12 453.50,488.32 457.46,488.70 C461.42,489.07 465.39,489.52 469.35,489.60 C473.31,489.67 477.28,489.45 481.24,489.15 C485.20,488.85 489.17,488.40 493.13,487.80 C497.09,487.20 501.06,486.38 505.02,485.55 C508.98,484.73 512.95,483.52 516.91,482.85 C520.87,482.17 524.84,481.50 528.80,481.50 C532.76,481.50 536.73,482.70 540.69,482.85 C544.65,483.00 548.62,482.55 552.58,482.40 C556.54,482.25 560.51,482.77 564.47,481.95 C568.43,481.12 572.40,479.10 576.36,477.45 C580.32,475.80 584.29,473.48 588.25,472.05 C592.21,470.62 596.18,469.50 600.14,468.90 C604.10,468.30 608.07,468.15 612.03,468.45 C615.99,468.75 619.96,469.50 623.92,470.70 C627.88,471.90 631.85,474.00 635.81,475.65 C639.77,477.30 643.74,479.25 647.70,480.60 C651.66,481.95 655.63,482.62 659.59,483.75 C663.55,484.88 667.52,486.15 671.48,487.35 C675.44,488.55 679.41,489.97 683.37,490.95 C687.33,491.93 693.28,492.82 695.26,493.20" stroke="#a8de94" stroke-width="1.15" fill="none"/>
<path d="M619.32,403.20L628.52,403.20M620.67,399.95L627.17,406.45M623.92,398.60L623.92,407.80M627.17,399.95L620.67,406.45" stroke="#333" stroke-width="0.9" fill="none"/>
<path d="M631.21,403.20L640.41,403.20M632.56,399.95L639.06,406.45M635.81,398.60L635.81,407.80M639.06,399.95L632.56,406.45" stroke="#333" stroke-width="0.9" fill="none"/>
<path d="M409.90,357.70V583.20H695.26" stroke="#8a8a8a" stroke-width="1.6" fill="none"/>
<path d="M409.90,583.20h3M409.90,560.70h3M409.90,538.20h3M409.90,515.70h3M409.90,493.20h3M409.90,470.70h3M409.90,448.20h3M409.90,425.70h3M409.90,403.20h3M409.90,380.70h3M409.90,358.20h3M409.90,583.20v-3M457.46,583.20v-3M505.02,583.20v-3M552.58,583.20v-3M600.14,583.20v-3M647.70,583.20v-3M695.26,583.20v-3" stroke="#8a8a8a" stroke-width="1.1" fill="none"/>
<text x="406.10" y="586.70" text-anchor="end" font-size="9.8" letter-spacing="-0.45" fill="#222222" stroke="#222222" stroke-width="0.15">-2</text>
<text x="406.10" y="564.20" text-anchor="end" font-size="9.8" letter-spacing="-0.45" fill="#222222" stroke="#222222" stroke-width="0.15">-1.5</text>
<text x="406.10" y="541.70" text-anchor="end" font-size="9.8" letter-spacing="-0.45" fill="#222222" stroke="#222222" stroke-width="0.15">-1</text>
<text x="406.10" y="519.20" text-anchor="end" font-size="9.8" letter-spacing="-0.45" fill="#222222" stroke="#222222" stroke-width="0.15">-0.5</text>
<text x="406.10" y="496.70" text-anchor="end" font-size="9.8" letter-spacing="-0.45" fill="#222222" stroke="#222222" stroke-width="0.15">0</text>
<text x="406.10" y="474.20" text-anchor="end" font-size="9.8" letter-spacing="-0.45" fill="#222222" stroke="#222222" stroke-width="0.15">0.5</text>
<text x="406.10" y="451.70" text-anchor="end" font-size="9.8" letter-spacing="-0.45" fill="#222222" stroke="#222222" stroke-width="0.15">1</text>
<text x="406.10" y="429.20" text-anchor="end" font-size="9.8" letter-spacing="-0.45" fill="#222222" stroke="#222222" stroke-width="0.15">1.5</text>
<text x="406.10" y="406.70" text-anchor="end" font-size="9.8" letter-spacing="-0.45" fill="#222222" stroke="#222222" stroke-width="0.15">2</text>
<text x="406.10" y="384.20" text-anchor="end" font-size="9.8" letter-spacing="-0.45" fill="#222222" stroke="#222222" stroke-width="0.15">2.5</text>
<text x="406.10" y="361.70" text-anchor="end" font-size="9.8" letter-spacing="-0.45" fill="#222222" stroke="#222222" stroke-width="0.15">3</text>
<text x="410.40" y="596.50" text-anchor="middle" font-size="9.8" letter-spacing="-0.45" fill="#222222" stroke="#222222" stroke-width="0.15">0</text>
<text x="457.96" y="596.50" text-anchor="middle" font-size="9.8" letter-spacing="-0.45" fill="#222222" stroke="#222222" stroke-width="0.15">2</text>
<text x="505.52" y="596.50" text-anchor="middle" font-size="9.8" letter-spacing="-0.45" fill="#222222" stroke="#222222" stroke-width="0.15">4</text>
<text x="553.08" y="596.50" text-anchor="middle" font-size="9.8" letter-spacing="-0.45" fill="#222222" stroke="#222222" stroke-width="0.15">6</text>
<text x="600.64" y="596.50" text-anchor="middle" font-size="9.8" letter-spacing="-0.45" fill="#222222" stroke="#222222" stroke-width="0.15">8</text>
<text x="648.20" y="596.50" text-anchor="middle" font-size="9.8" letter-spacing="-0.45" fill="#222222" stroke="#222222" stroke-width="0.15">10</text>
<text x="695.76" y="596.50" text-anchor="middle" font-size="9.8" letter-spacing="-0.45" fill="#222222" stroke="#222222" stroke-width="0.15">12</text>
<text x="553.08" y="608.80" text-anchor="middle" font-size="10.4" fill="#222222" stroke="#222222" stroke-width="0.12">Time (s)</text>
<text transform="translate(385.60,470.10) rotate(-90)" text-anchor="middle" font-size="10.35" textLength="199.1" lengthAdjust="spacingAndGlyphs" fill="#222222" stroke="#222222" stroke-width="0.12">Relative HbO Concentration Change (a.u.)</text>
<text x="463.20" y="353.00" font-size="12" textLength="178.30" lengthAdjust="spacingAndGlyphs" font-weight="bold" fill="#111" stroke="#111" stroke-width="0.25">HbO Change in Adapted Probe</text>
<rect x="578.30" y="357.30" width="118.00" height="40.80" fill="#fff" stroke="#8f8f8f" stroke-width="1.1"/>
<path d="M580.30,365.10H606.80M593.50,361.10V369.10M590.50,361.10h6M590.50,369.10h6" stroke="#ad858c" stroke-width="1.3" fill="none"/>
<path d="M580.30,377.80H606.80M593.50,373.80V381.80M590.50,373.80h6M590.50,381.80h6" stroke="#abd69b" stroke-width="1.3" fill="none"/>
<path d="M588.90,390.70L598.10,390.70M590.25,387.45L596.75,393.95M593.50,386.10L593.50,395.30M596.75,387.45L590.25,393.95" stroke="#333" stroke-width="0.9" fill="none"/>
<text x="609.30" y="369.60" font-size="10.4" fill="#222222" stroke="#222222" stroke-width="0.2">BBN</text>
<text x="609.30" y="382.30" font-size="10.4" fill="#222222" stroke="#222222" stroke-width="0.2">ISR</text>
<text x="609.30" y="394.30" font-size="10.4" textLength="83.40" lengthAdjust="spacingAndGlyphs" fill="#222222" stroke="#222222" stroke-width="0.2">Significance Point</text>
</svg>
</body></html>
